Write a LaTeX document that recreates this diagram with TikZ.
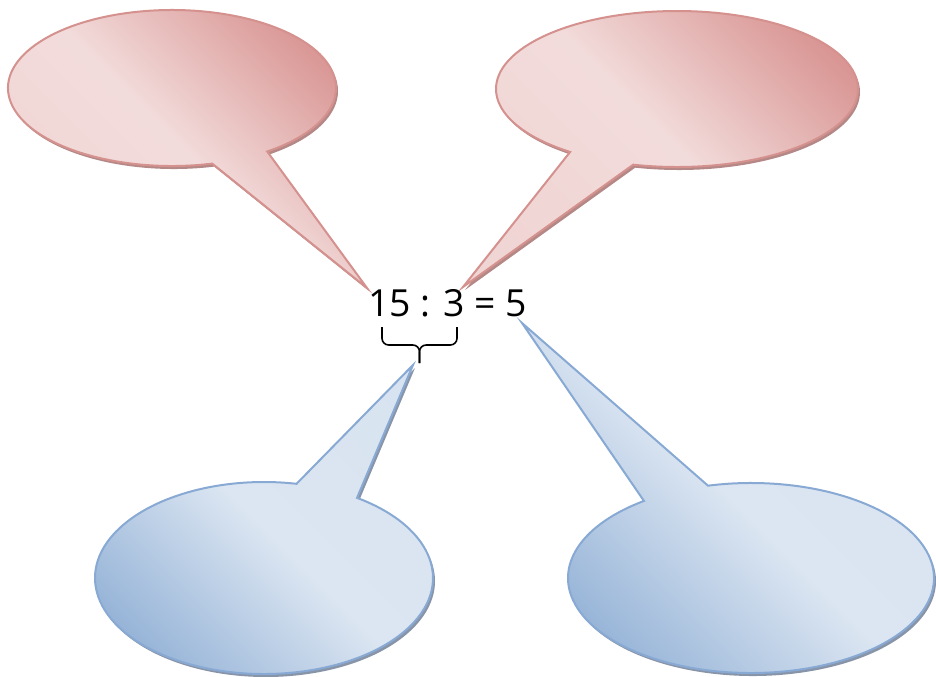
\documentclass[tikz,border=0pt]{standalone}
\usepackage{fontspec}
\newfontfamily\eqfont{Open Sans}
\definecolor{redEdge}{HTML}{D4918E}
\definecolor{redDark}{HTML}{D99694}
\definecolor{redLight}{HTML}{F2DCDB}
\definecolor{redShade}{HTML}{B48886}
\definecolor{blueEdge}{HTML}{88A9D3}
\definecolor{blueDark}{HTML}{95B3D7}
\definecolor{blueLight}{HTML}{DCE6F2}
\definecolor{blueShade}{HTML}{8894A8}
\tikzset{
  red bubble/.style={draw=redEdge,line width=1.5pt,line join=miter,
    top color=redDark,bottom color=redLight!90!redDark,middle color=redLight,
    shading angle=-45},
  blue bubble/.style={draw=blueEdge,line width=1.5pt,line join=miter,
    bottom color=blueDark,top color=blueLight!95!blueDark,middle color=blueLight,
    shading angle=-45},
  red shadow/.style={fill=redShade,shift={(2,3)}},
  blue shadow/.style={fill=blueShade,shift={(2,3)}},
  brace line/.style={draw=black,line width=1.2pt,rounded corners=5}
}
% centre x, centre y, rx, ry, from angle, to angle, tip x, tip y
\newcommand{\bubblepath}[8]{%
  (#1,#2) ++(#5:#3 and #4)
  arc[start angle=#5,end angle=#6,x radius=#3,y radius=#4]
  -- (#7,#8) -- cycle}
\begin{document}
\begin{tikzpicture}[x=0.75pt,y=-0.75pt]
  \useasboundingbox (0,0) rectangle (936,676);
  % upper callouts
  \fill[red shadow] \bubblepath{172}{88}{164}{78}{75.8}{414.5}{367}{288};
  \path[red bubble] \bubblepath{172}{88}{164}{78}{75.8}{414.5}{367}{288};
  \fill[red shadow] \bubblepath{677}{89}{181}{78}{126.2}{464}{463}{287};
  \path[red bubble] \bubblepath{677}{89}{181}{78}{126.2}{464}{463}{287};
  % lower callouts
  \fill[blue shadow] \bubblepath{264}{578}{169}{96}{303.4}{641.1}{413}{365};
  \path[blue bubble] \bubblepath{264}{578}{169}{96}{303.4}{641.1}{413}{365};
  \fill[blue shadow] \bubblepath{751}{578}{183}{95}{256.4}{594.2}{522}{323};
  \path[blue bubble] \bubblepath{751}{578}{183}{95}{256.4}{594.2}{522}{323};
  % equation and brace
  \node[inner sep=0pt,font=\eqfont\fontsize{28}{34}\selectfont] (eq) at (447.5,303.5) {15 : 3 = 5};
  \coordinate (braceL) at (382,327);
  \coordinate (braceR) at (457,327);
  \coordinate (braceMid) at (419.5,345);
  \coordinate (braceTip) at (419.5,363);
  \draw[brace line] (braceL) |- (braceMid) -- (braceTip);
  \draw[brace line] (braceR) |- (braceMid) -- (braceTip);
\end{tikzpicture}
\end{document}
